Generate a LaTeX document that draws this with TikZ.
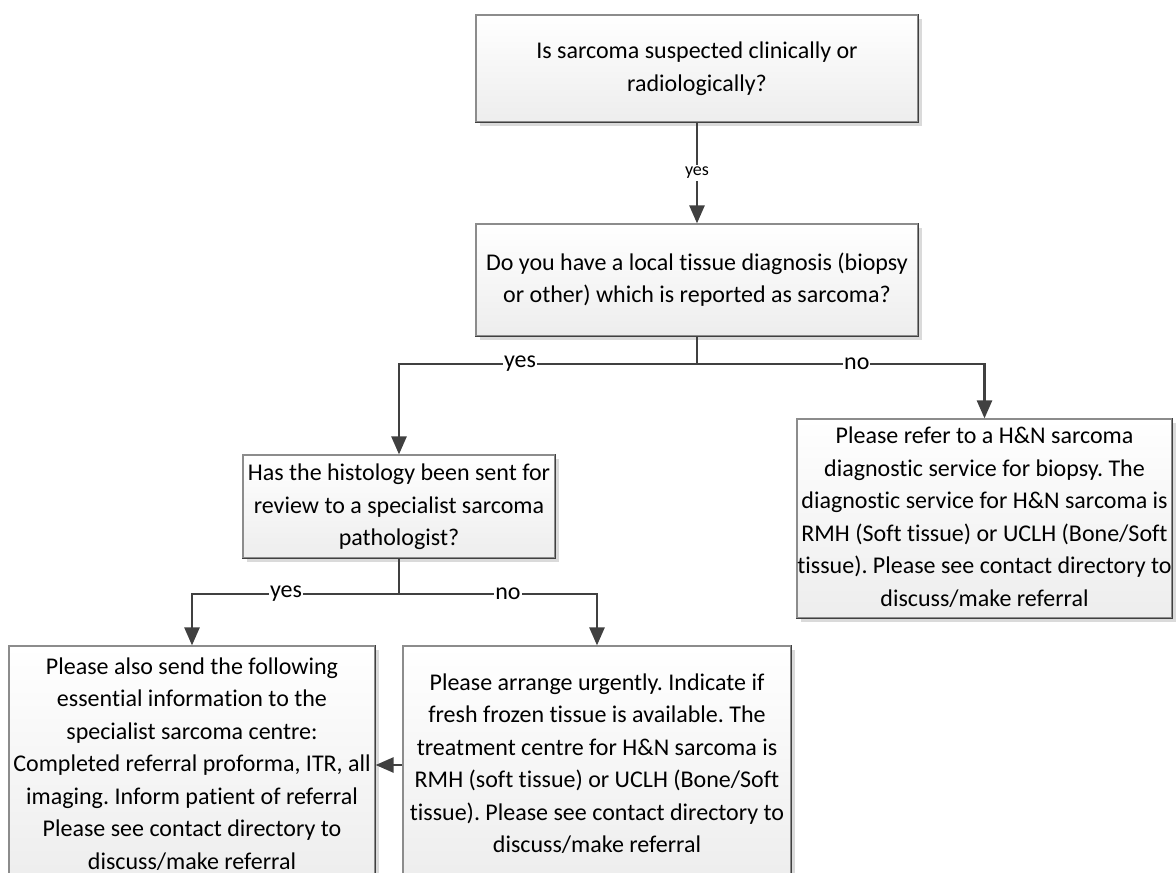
\documentclass[tikz,border=0pt]{standalone}
\usepackage{fontspec}
\setmainfont{Carlito}[Ligatures=NoCommon]
\frenchspacing
\usetikzlibrary{arrows.meta,shadows}
\definecolor{edgegray}{HTML}{8C8C8C}
\definecolor{darkedge}{HTML}{404040}
\definecolor{linegray}{HTML}{404040}
\definecolor{fillbot}{HTML}{EDEDED}
\definecolor{shadowgray}{HTML}{DADADA}
\newcommand{\bxt}[2]{\makebox[#1]{\begin{tabular}{@{}c@{}}#2\end{tabular}}}
\begin{document}
\begin{tikzpicture}[x=1pt,y=-1pt,
  flowbox/.style={draw=edgegray, line width=1.2pt, top color=white, bottom color=fillbot,
    inner sep=0pt, font=\fontsize{24}{32.5}\selectfont,
    drop shadow={shadow xshift=4pt, shadow yshift=-4pt, fill=shadowgray, opacity=1}},
  flow/.style={draw=linegray, line width=2.6pt, -{Triangle[length=18pt,width=15pt]}},
  plain/.style={draw=linegray, line width=2.6pt},
  lbl/.style={fill=white, inner sep=1pt, font=\fontsize{24}{26}\selectfont, text=black},
  lblsmall/.style={fill=white, inner sep=2pt, font=\fontsize{18}{20}\selectfont, text=black},
  rbedge/.style={draw=darkedge, line width=1.4pt}]
\useasboundingbox (0,0) rectangle (1176,873);
\clip (0,0) rectangle (1176,873);

\node[flowbox, minimum width=442pt, minimum height=107pt] (b1) at (697,68.5)
  {\bxt{442pt}{Is sarcoma suspected clinically or\\radiologically?}};
\node[flowbox, minimum width=442pt, minimum height=112pt] (b2) at (697,280)
  {\bxt{442pt}{Do you have a local tissue diagnosis (biopsy\\or other) which is reported as sarcoma?}};
\node[flowbox, minimum width=312pt, minimum height=103pt] (b3) at (399,506.5)
  {\bxt{312pt}{Has the histology been sent for\\review to a specialist sarcoma\\pathologist?}};
\node[flowbox, minimum width=375pt, minimum height=199pt] (b4) at (984.5,518.5)
  {\bxt{375pt}{Please refer to a H\&N sarcoma\\diagnostic service for biopsy. The\\diagnostic service for H\&N sarcoma is\\RMH (Soft tissue) or UCLH (Bone/Soft\\tissue). Please see contact directory to\\discuss/make referral}};
\node[flowbox, minimum width=366pt, minimum height=238pt] (b5) at (192,765)
  {\bxt{366pt}{Please also send the following\\essential information to the\\specialist sarcoma centre:\\Completed referral proforma, ITR, all\\imaging. Inform patient of referral\\Please see contact directory to\\discuss/make referral}};
\node[flowbox, minimum width=388pt, minimum height=238pt] (b6) at (597,765)
  {\bxt{388pt}{Please arrange urgently. Indicate if\\fresh frozen tissue is available. The\\treatment centre for H\&N sarcoma is\\RMH (soft tissue) or UCLH (Bone/Soft\\tissue). Please see contact directory to\\discuss/make referral}};

\foreach \n in {b1,b2,b3,b4,b5,b6}
  \draw[rbedge] (\n.north east) -- (\n.south east) -- (\n.south west);

\coordinate (j1) at (697,364);
\coordinate (j2) at (399,594);

\draw[flow] (b1.south) -- node[lblsmall]{yes} (b2.north);
\draw[plain] (b2.south) -- (j1);
\draw[flow] (j1) -| node[pos=0.297, lbl]{yes} (b3.north);
\draw[flow] (j1) -| node[pos=0.278, lbl]{no} (b4.north);
\draw[plain] (b3.south) -- (j2);
\draw[flow] (j2) -| node[pos=0.273, lbl]{yes} (b5.north);
\draw[flow] (j2) -| node[pos=0.275, lbl]{no} (b6.north);
\draw[flow] (b6.west) -- (b5.east);
\end{tikzpicture}
\end{document}
